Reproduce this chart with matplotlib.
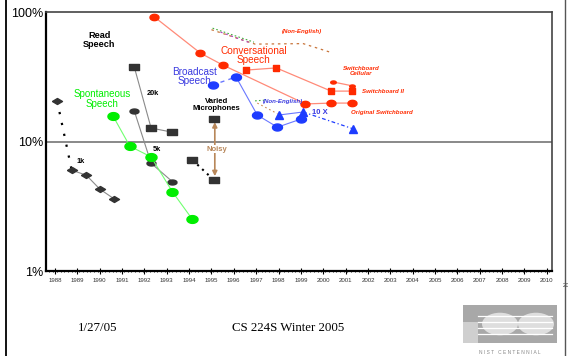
import numpy as np
import matplotlib
matplotlib.use("Agg")
import matplotlib.pyplot as plt
from matplotlib.patches import Rectangle, Circle
from matplotlib.lines import Line2D

plt.rcParams['font.family'] = ['Liberation Sans', 'DejaVu Sans']

# ---- data: (year, word error rate %) ----
read_1k_years = [1988.1, 1988.75, 1989.4, 1990.0, 1990.65]
read_1k_wer = [20.5, 6.0, 5.5, 4.3, 3.6]

read_20k_years = [1991.55, 1992.3, 1993.25]
read_20k_wer = [37.5, 12.7, 11.8]

read_5k_years = [1991.55, 1992.3, 1993.25]
read_5k_wer = [17.2, 6.8, 4.9]

varied_mic_years = [1995.1]
varied_mic_wer = [14.9]
noisy_years = [1994.15, 1995.1]
noisy_wer = [7.2, 5.05]

spont_years = [1990.6, 1991.35, 1992.3, 1993.25, 1994.15]
spont_wer = [15.7, 9.2, 7.6, 4.1, 2.5]

bn_years = [1995.05, 1996.1, 1997.05, 1997.95, 1999.0]
bn_wer = [27.3, 31.5, 16.0, 12.9, 14.9]

bn10x_years = [1998.0, 1999.1, 2001.35]
bn10x_wer = [16.0, 16.9, 12.5]

swb_years = [1992.45, 1994.5, 1995.5, 1999.2, 2000.35, 2001.3]
swb_wer = [91.5, 48.2, 39.0, 19.5, 19.8, 19.8]

swb2_years = [1996.55, 1997.9, 2000.35, 2001.3]
swb2_wer = [35.6, 37.0, 24.5, 24.5]

cell_years = [2000.45, 2001.3]
cell_wer = [28.8, 26.9]

# non-english dashed traces
ne_conv_a_years = [1995.0, 1996.95, 1999.1, 2000.3]
ne_conv_a_wer = [73.0, 56.5, 57.0, 49.0]
ne_conv_b_years = [1995.05, 1996.9]
ne_conv_b_wer = [75.0, 58.5]
ne_conv_c_years = [1995.4, 1996.7]
ne_conv_c_wer = [70.0, 58.0]
ne_bn_a_years = [1997.05, 1997.95]
ne_bn_a_wer = [19.8, 16.4]
ne_bn_b_years = [1996.95, 1997.45]
ne_bn_b_wer = [20.6, 20.9]

year_ticks = list(range(1988, 2011))

# ---- marker shapes ----
t = np.linspace(0, 2 * np.pi, 40)
ellipse = np.column_stack([np.cos(t), 0.7 * np.sin(t)])
flat_ellipse = np.column_stack([np.cos(t), 0.55 * np.sin(t)])
rect = [(-1, -0.65), (1, -0.65), (1, 0.65), (-1, 0.65), (-1, -0.65)]
red_rect = [(-1, -0.75), (1, -0.75), (1, 0.75), (-1, 0.75), (-1, -0.75)]
diamond = [(-1, 0), (0, 0.6), (1, 0), (0, -0.6), (-1, 0)]

RED = '#ff2a00'
RED_LINE = '#ff8a78'
BLUE = '#1e3cff'
BLUE_LINE = '#6a78ff'
GREEN = '#00ee00'
GREEN_LINE = '#70ff70'
DARK = '#333333'
GRAY_LINE = '#8a8a8a'
TAN = '#b8875a'

fig = plt.figure(figsize=(5.68, 3.56), dpi=100)
ax = fig.add_axes([46 / 568, 1 - 271 / 356, (552 - 46) / 568, (271 - 12) / 356])
ax.set_yscale('log')
ax.set_ylim(1, 100)
ax.set_xlim(1987.6, 2010.23)

# 10% line
ax.axhline(10, color='#808080', lw=1.3, zorder=1)

# ---- read speech ----
ax.plot(read_1k_years[:2], read_1k_wer[:2], color='black', ls=(0, (1, 4)), lw=1.6, zorder=2)
ax.plot(read_1k_years[1:], read_1k_wer[1:], color=GRAY_LINE, lw=0.8, zorder=2)
ax.plot(read_1k_years, read_1k_wer, ls='none', marker=diamond, ms=7.2, color=DARK, zorder=3)

ax.plot(read_20k_years, read_20k_wer, color=GRAY_LINE, lw=0.8, marker=rect, ms=6.5,
        mfc=DARK, mec=DARK, zorder=3)
ax.plot(read_5k_years, read_5k_wer, color=GRAY_LINE, lw=0.8, marker=flat_ellipse, ms=6.5,
        mfc=DARK, mec=DARK, zorder=3)

ax.plot(noisy_years, noisy_wer, color='black', ls=(0, (1, 2.2)), lw=1.5, zorder=2)
ax.plot(noisy_years, noisy_wer, ls='none', marker=rect, ms=6.5, color=DARK, zorder=3)
ax.plot(varied_mic_years, varied_mic_wer, ls='none', marker=rect, ms=6.5, color=DARK, zorder=3)

# ---- spontaneous ----
ax.plot(spont_years, spont_wer, color=GREEN_LINE, lw=0.8, marker=ellipse, ms=8,
        mfc=GREEN, mec=GREEN, zorder=3)

# ---- broadcast ----
ax.plot(bn_years[:2], bn_wer[:2], color=BLUE_LINE, lw=1.0, ls=(0, (3, 3)), zorder=2)
ax.plot(bn_years[1:], bn_wer[1:], color=BLUE_LINE, lw=0.8, zorder=2)
ax.plot(bn_years, bn_wer, ls='none', marker=ellipse, ms=7.2, color=BLUE, zorder=3)
ax.plot(bn10x_years[:2], bn10x_wer[:2], color=BLUE_LINE, lw=0.8, zorder=2)
ax.plot(bn10x_years[1:], bn10x_wer[1:], color=BLUE, lw=0.9, ls=(0, (3, 2, 1, 2)), zorder=2)
ax.plot(bn10x_years, bn10x_wer, ls='none', marker='^', ms=5.2, color=BLUE, zorder=3)

# ---- conversational ----
ax.plot(swb_years, swb_wer, color=RED_LINE, lw=0.9, marker=ellipse, ms=6.5,
        mfc=RED, mec=RED, zorder=3)
ax.plot(swb2_years, swb2_wer, color=RED_LINE, lw=0.9, marker=red_rect, ms=5,
        mfc=RED, mec=RED, zorder=3)
ax.plot(cell_years, cell_wer, color=RED_LINE, lw=0.9, marker=flat_ellipse, ms=4,
        mfc=RED, mec=RED, zorder=3)

# ---- non-english traces ----
ax.plot(ne_conv_a_years, ne_conv_a_wer, color='#c8743a', lw=0.9, ls=(0, (2, 3)), zorder=2)
ax.plot(ne_conv_b_years, ne_conv_b_wer, color='#40b040', lw=0.8, ls=(0, (1.5, 2)), zorder=2)
ax.plot(ne_conv_c_years, ne_conv_c_wer, color='#b040c0', lw=0.8, ls=(0, (2, 3)), zorder=2)
ax.plot(ne_bn_a_years, ne_bn_a_wer, color='#d08a50', lw=0.8, ls=(0, (1.5, 2.5)), zorder=2)
ax.plot(ne_bn_b_years, ne_bn_b_wer, color='#40b040', lw=0.8, ls=(0, (1.5, 2)), zorder=2)

# noisy arrow
ax.annotate('', xy=(1995.15, 5.4), xytext=(1995.15, 14.1),
            arrowprops=dict(arrowstyle='<|-|>', color=TAN, lw=1.2,
                            mutation_scale=7, shrinkA=0, shrinkB=0), zorder=2)
ax.text(1995.25, 8.75, 'Noisy', color=TAN, fontsize=5.5, fontweight='bold',
        ha='center', va='center', zorder=4,
        bbox=dict(facecolor='white', edgecolor='none', pad=0.6))

# ---- labels ----
bold = dict(fontweight='bold', ha='center', va='center', linespacing=1.0)
ax.text(1989.99, 60.8, 'Read\nSpeech', fontsize=6.6, color='black', **bold)
ax.text(1992.36, 23.3, '20k', fontsize=5.3, color='black', **bold)
ax.text(1992.56, 8.75, '5k', fontsize=5.3, color='black', **bold)
ax.text(1989.16, 6.95, '1k', fontsize=5.3, color='black', **bold)
ax.text(1995.22, 19.0, 'Varied\nMicrophones', fontsize=5.6, color='black', **bold)
ax.text(1999.85, 16.7, '10 X', fontsize=5.5, color='#3a3ae0', **bold)

reg = dict(ha='center', va='center', linespacing=0.95)
ax.text(1990.10, 21.4, 'Spontaneous\nSpeech', fontsize=7, color=GREEN, **reg)
ax.text(1996.9, 46.1, 'Conversational\nSpeech', fontsize=7.2, color=RED, **reg)
ax.text(1994.26, 31.8, 'Broadcast\nSpeech', fontsize=7.2, color='#3a3ae0', **reg)

small = dict(fontsize=4.4, fontweight='bold', style='italic', va='center', linespacing=1.0)
ax.text(1999.05, 71.3, '(Non-English)', color=RED, ha='center', **small)
ax.text(2001.69, 35.3, 'Switchboard\nCellular', color=RED, ha='center', **small)
ax.text(2001.73, 24.5, 'Switchboard II', color=RED, ha='left', **small)
ax.text(2001.24, 16.6, 'Original Switchboard', color=RED, ha='left', **small)
ax.text(1998.2, 20.4, '(Non-English)', color='#3a3ae0', ha='center', **small)

# ---- axes styling ----
ax.set_yticks([1, 10, 100])
ax.set_yticklabels(['1%', '10%', '100%'])
ax.yaxis.set_minor_locator(matplotlib.ticker.NullLocator())
ax.tick_params(axis='y', length=0, pad=2, labelsize=9)
ax.set_xticks(year_ticks)
ax.set_xticklabels([str(y) for y in year_ticks])
ax.set_xticks(np.arange(1987.75, 2010.2, 1 / 6), minor=True)
ax.tick_params(axis='x', which='major', direction='inout', length=4, width=0.8,
               labelsize=4.4, labelcolor='#333333', pad=3)
ax.tick_params(axis='x', which='minor', direction='inout', length=2, width=0.6)
ax.text(2011, -0.045, '2011', transform=ax.get_xaxis_transform(), fontsize=4.4,
        color='#333333', ha='center', va='top', clip_on=False)
for side in ['left', 'bottom']:
    ax.spines[side].set_linewidth(1.6)
    ax.spines[side].set_color('black')
for side in ['top', 'right']:
    ax.spines[side].set_linewidth(1.2)
    ax.spines[side].set_color('#444444')

# ---- slide frame and footer ----
def fx(x):
    return x / 568

def fy(y):
    return 1 - y / 356

fig.add_artist(Line2D([fx(6), fx(6)], [0, 1], color='black', lw=1.3))
fig.add_artist(Line2D([fx(565), fx(565)], [0, 1], color='#555555', lw=1.0))
fig.text(fx(97.5), fy(328), '1/27/05', family='Liberation Serif', fontsize=9.3,
         ha='center', va='center')
fig.text(fx(288.5), fy(328), 'CS 224S Winter 2005', family='Liberation Serif',
         fontsize=9.3, ha='center', va='center')

# NIST centennial logo (rough)
fig.add_artist(Rectangle((fx(463), fy(343)), fx(557) - fx(463), fy(305) - fy(343),
                         transform=fig.transFigure, facecolor='#a8a8a8', edgecolor='none'))
fig.add_artist(Rectangle((fx(463), fy(343)), fx(478) - fx(463), fy(322) - fy(343),
                         transform=fig.transFigure, facecolor='#cfcfcf', edgecolor='none'))
for cx in [500, 536]:
    fig.add_artist(Circle((fx(cx), fy(324)), 18 / 568, transform=fig.transFigure,
                          facecolor='#dedede', edgecolor='none'))
for ly in [316, 322, 328, 334]:
    fig.add_artist(Line2D([fx(478), fx(552)], [fy(ly), fy(ly)], color='white', lw=0.9))
fig.text(fx(510), fy(352), 'N I S T   C E N T E N N I A L', fontsize=3.5,
         color='#888888', ha='center', va='center')

fig.savefig('out.png', dpi=100)
